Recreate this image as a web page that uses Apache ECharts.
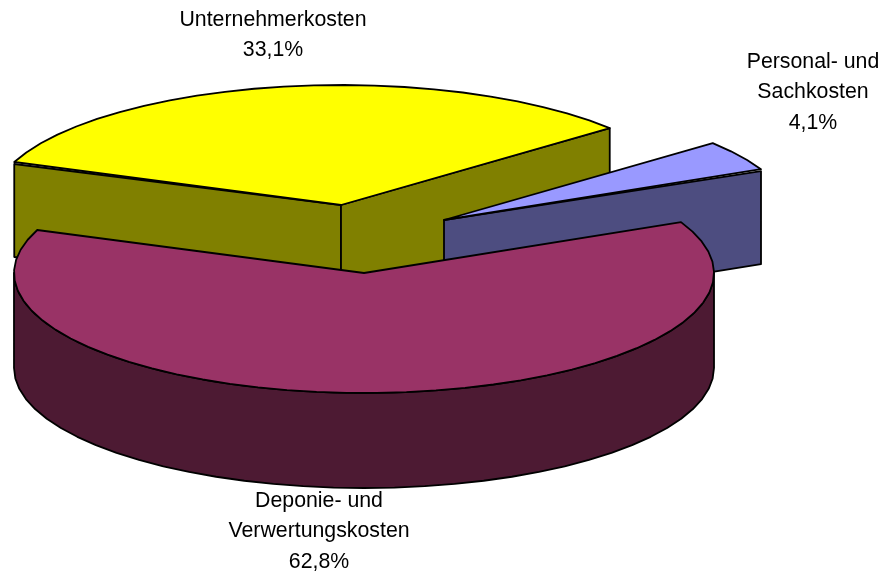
<!DOCTYPE html>
<html>
<head>
<meta charset="utf-8">
<style>html,body{margin:0;padding:0;background:#fff}#c{width:884px;height:572px}</style>
<script src="https://cdn.jsdelivr.net/npm/echarts@6/dist/echarts.min.js"></script>
</head>
<body>
<div id="c"></div>
<script>
// Data
const categories = ['Unternehmerkosten', 'Personal- und\nSachkosten', 'Deponie- und\nVerwertungskosten'];
const shares = [33.1, 4.1, 62.8];

// Styling and layout
const topColors = ['#FFFF00', '#9999FF', '#993366'];
const sideColors = ['#808000', '#4D4D80', '#4D1A33'];
const apexes = [[341, 205], [444, 220], [364, 273]];
const labelCentres = [[273, 20], [813, 62], [319, 501]];
const startAngle = 201, rx = 350, ry = 120, depth = 95, stepDeg = 5, lineGap = 30.5;

const total = shares.reduce((a, b) => a + b, 0);
const rad = d => d * Math.PI / 180;
const rim = (c, a, dy) => [c[0] + rx * Math.cos(rad(a)), c[1] + ry * Math.sin(rad(a)) + (dy || 0)];
function arc(c, a0, a1, dy) {
  const pts = [];
  const n = Math.max(1, Math.ceil(Math.abs(a1 - a0) / stepDeg));
  for (let i = 0; i <= n; i++) pts.push(rim(c, a0 + (a1 - a0) * i / n, dy));
  return pts;
}
const outline = { stroke: '#000', lineWidth: 1.8, lineJoin: 'round' };
function poly(points, fill) {
  return { type: 'polygon', shape: { points }, style: Object.assign({ fill }, outline) };
}
function renderItem(params, api) {
  const i = params.dataIndex;
  const value = api.value(0);
  let before = 0;
  for (let k = 0; k < i; k++) before += shares[k];
  const a0 = startAngle + before / total * 360;
  const a1 = a0 + value / total * 360;
  const c = apexes[i];
  const kids = [];
  // radial walls that face the viewer
  [[a0, Math.cos(rad(a0)) < 0], [a1, Math.cos(rad(a1)) > 0]].forEach(([a, visible]) => {
    if (!visible) return;
    const inset = Math.abs(Math.sin(rad(a))) < 0.45 ? 2 : 0;
    const p = rim(c, a, inset);
    kids.push(poly([[c[0], c[1]], p, [p[0], p[1] - inset + depth], [c[0], c[1] + depth]], sideColors[i]));
  });
  // outer wall: the part of the slice on the front half of the ellipse
  for (let base = 0; base <= 720; base += 360) {
    const from = Math.max(a0, base), to = Math.min(a1, base + 180);
    if (to > from) {
      kids.push(poly(arc(c, from, to).concat(arc(c, to, from, depth)), sideColors[i]));
    }
  }
  // top face
  kids.push(poly([[c[0], c[1]]].concat(arc(c, a0, a1)), topColors[i]));
  // label
  const lines = categories[i].split('\n').concat([value.toFixed(1).replace('.', ',') + '%']);
  lines.forEach((t, k) => {
    kids.push({
      type: 'text', z2: 10,
      style: {
        x: labelCentres[i][0], y: labelCentres[i][1] + k * lineGap, text: t,
        fill: '#000', font: '21.3px "Liberation Sans", Arial, sans-serif',
        align: 'center', verticalAlign: 'middle'
      }
    });
  });
  return { type: 'group', children: kids };
}
const chart = echarts.init(document.getElementById('c'), null, { renderer: 'canvas' });
chart.setOption({
  animation: false,
  backgroundColor: '#fff',
  series: [{
    type: 'custom',
    coordinateSystem: 'none',
    renderItem,
    silent: true,
    data: shares.map((v, i) => ({ name: categories[i], value: [v] }))
  }]
});
</script>
</body>
</html>
